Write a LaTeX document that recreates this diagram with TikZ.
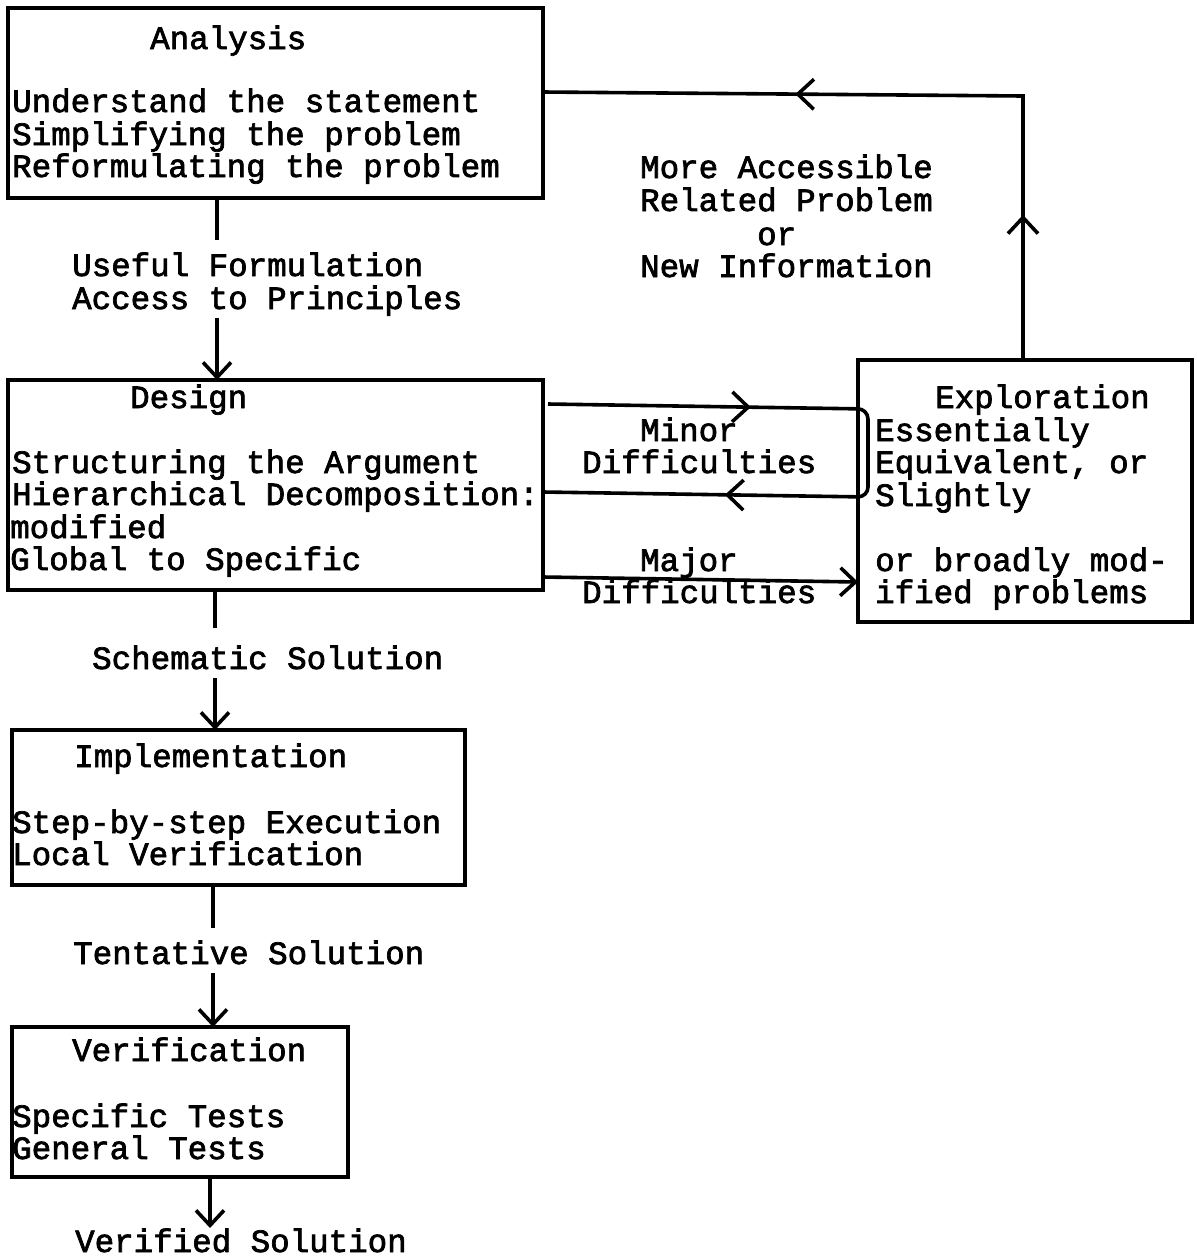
\documentclass[tikz,border=0pt]{standalone}
\usepackage{fontspec}
\setmonofont{Liberation Mono}[FakeBold=2.2]
\usetikzlibrary{arrows.meta,decorations.markings,calc}
\begin{document}
\begin{tikzpicture}[x=1pt,y=-1pt,
  box/.style={draw,line width=3.6pt,inner sep=0pt,outer sep=0pt},
  txt/.style={anchor=base west,inner sep=0pt,font=\ttfamily\fontsize{32.5}{32.5}\selectfont},
  conn/.style={line width=3.6pt},
  tipend/.style={-{Straight Barb[length=15pt,width=28pt]}},
  midtwo/.style 2 args={postaction={decorate},decoration={markings,
     mark=at position #1 with {\arrow{Straight Barb[length=16pt,width=30pt,line width=3.6pt]}},
     mark=at position #2 with {\arrow{Straight Barb[length=16pt,width=30pt,line width=3.6pt]}}}}
]
\useasboundingbox (0,0) rectangle (1197,1259);
\fill[white] (0,0) rectangle (1197,1259);

% boxes
\node[box,minimum width=535pt,minimum height=190pt] (analysis) at (275.5,103) {};
\node[box,minimum width=535pt,minimum height=210pt] (design) at (275.5,485) {};
\node[box,minimum width=334pt,minimum height=262pt] (explor) at (1025,491) {};
\node[box,minimum width=453pt,minimum height=155pt] (impl) at (238.5,807.5) {};
\node[box,minimum width=336pt,minimum height=150pt] (verif) at (180,1102) {};

% analysis texts
\node[txt] (an0) at (150,49) {Analysis};
\node[txt] (an1) at (12,112) {Understand the statement};
\node[txt] (an2) at (12,145) {Simplifying the problem};
\node[txt] (an3) at (12,177) {Reformulating the problem};

\node[txt] (uf1) at (72,276) {Useful Formulation};
\node[txt] (uf2) at (72,309) {Access to Principles};

\node[txt] (ma1) at (640,178) {More Accessible};
\node[txt] (ma2) at (640,211) {Related Problem};
\node[txt] (ma3) at (757,245) {or};
\node[txt] (ma4) at (640,277) {New Information};

% design texts
\node[txt] (de0) at (130,408) {Design};
\node[txt] (de1) at (12,473) {Structuring the Argument};
\node[txt] (de2) at (12,505) {Hierarchical Decomposition:};
\node[txt] (de3) at (10,538) {modified};
\node[txt] (de4) at (10,570) {Global to Specific};

\node[txt] (mi1) at (640,441) {Minor};
\node[txt] (mi2) at (582,473) {Difficulties};
\node[txt] (mj1) at (640,571) {Major};
\node[txt] (mj2) at (582,603) {Difficulties};

% exploration texts
\node[txt] (ex0) at (935,408) {Exploration};
\node[txt] (ex1) at (875,441) {Essentially};
\node[txt] (ex2) at (875,473) {Equivalent, or};
\node[txt] (ex3) at (875,506) {Slightly};
\node[txt] (ex4) at (875,571) {or broadly mod-};
\node[txt] (ex5) at (875,603) {ified problems};

\node[txt] (sch) at (92,669) {Schematic Solution};

\node[txt] (im0) at (74,767) {Implementation};
\node[txt] (im1) at (12,833) {Step-by-step Execution};
\node[txt] (im2) at (12,865) {Local Verification};

\node[txt] (ten) at (73,964) {Tentative Solution};

\node[txt] (ve0) at (72,1061) {Verification};
\node[txt] (ve1) at (12,1127) {Specific Tests};
\node[txt] (ve2) at (12,1159) {General Tests};

\node[txt] (vs) at (75,1252) {Verified Solution};

% vertical connectors
\coordinate (a1) at (217,240);
\coordinate (a2) at (217,318);
\draw[conn] (analysis.south -| a1) -- (a1);
\draw[conn,tipend] (a2) -- (design.north -| a2);

\coordinate (s1) at (215,628);
\coordinate (s2) at (215,678);
\draw[conn] (design.south -| s1) -- (s1);
\draw[conn,tipend] (s2) -- (impl.north -| s2);

\coordinate (t1) at (213,928);
\coordinate (t2) at (213,973);
\draw[conn] (impl.south -| t1) -- (t1);
\draw[conn,tipend] (t2) -- (verif.north -| t2);

\coordinate (v1) at (210,1228);
\draw[conn,tipend] (verif.south -| v1) -- (v1);

% feedback loop
\coordinate (fb) at (1023,96);
\draw[conn,midtwo={0.195}{0.661}] (explor.north -| fb) -- (fb) -- ($(analysis.north east)+(0,84)$);

% minor difficulties loop
\draw[conn,rounded corners=10pt,midtwo={0.28}{0.749}]
  ($(design.north east)+(5,24)$) -- ($(explor.north west)+(10,49)$)
  -- ($(explor.north west)+(10,137)$) -- ($(design.north east)+(0,112)$);

% major difficulties
\draw[conn,tipend] ($(design.south east)+(0,-13)$) -- ($(explor.south west)+(0,-40)$);
\end{tikzpicture}
\end{document}
